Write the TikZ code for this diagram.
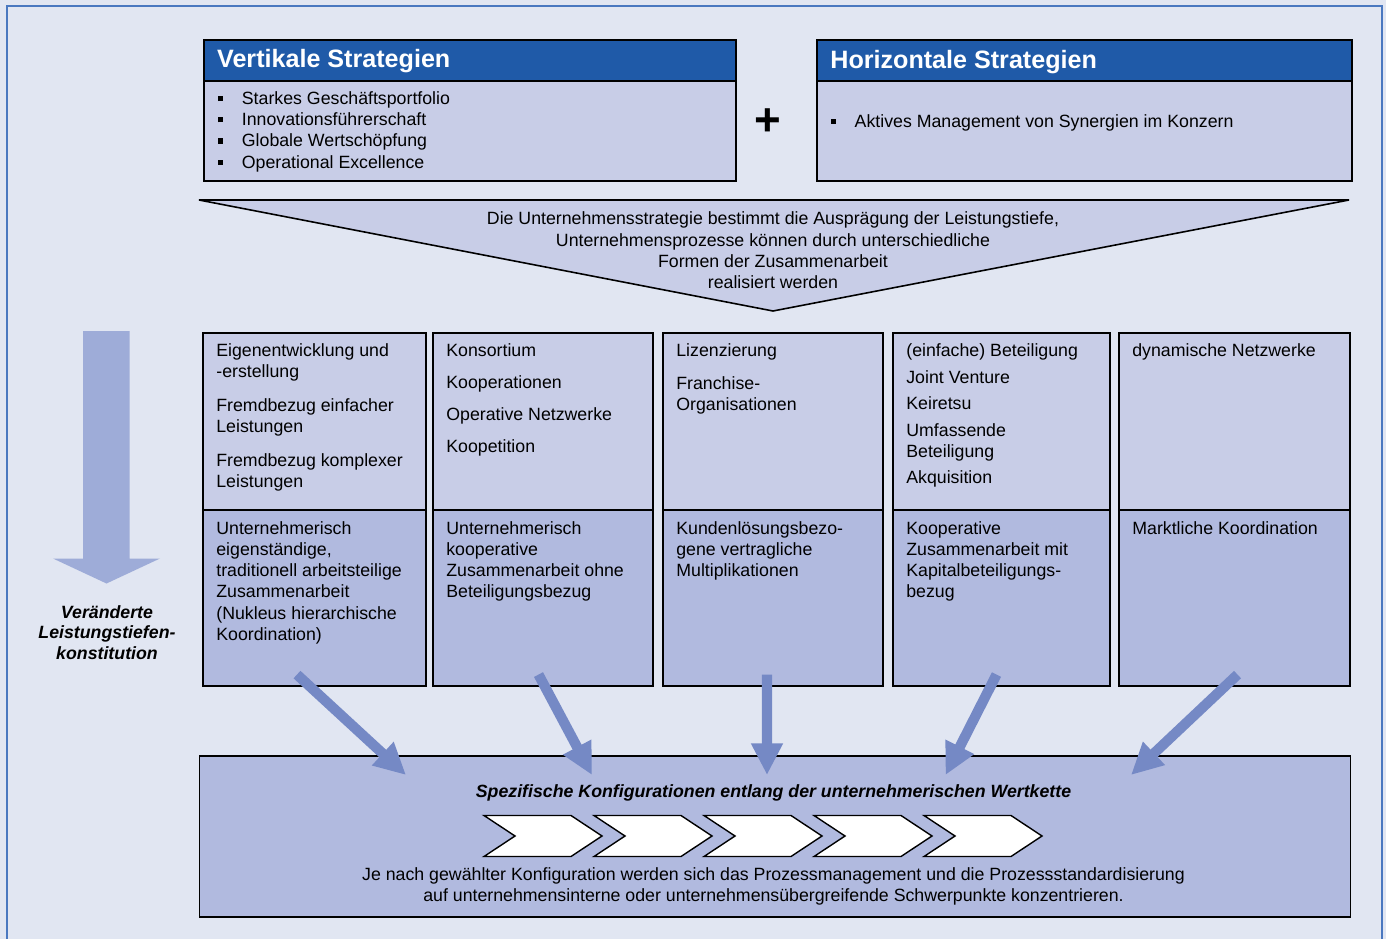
\documentclass[tikz,border=0pt]{standalone}
\usepackage{fontspec}
\setmainfont{Liberation Sans}
\usepackage{tikz}
\usetikzlibrary{arrows.meta}

\definecolor{bgblue}{HTML}{E1E6F2}
\definecolor{frameblue}{HTML}{4A78C0}
\definecolor{headblue}{HTML}{1F5AA8}
\definecolor{lightcell}{HTML}{C8CDE7}
\definecolor{darkcell}{HTML}{B1BADF}
\definecolor{flowblue}{HTML}{7589C5}
\definecolor{bigarrow}{HTML}{9EACD8}

\newcommand{\pw}[1]{#1*0.02cm}
\newcommand{\sqb}{\makebox[13.4pt][l]{\rule[1.9pt]{2.9pt}{2.9pt}}}

\begin{document}
\begin{tikzpicture}[x=0.02cm, y=-0.02cm,
      box/.style={draw=black, line width=0.9pt, inner sep=0pt, anchor=north west},
      txt/.style={inner sep=0pt, anchor=north west, align=left, font=\fontsize{10.1}{12.1}\selectfont},
      title/.style={inner sep=0pt, anchor=base west, text=white, font=\fontsize{14.3}{16}\selectfont\bfseries},
      flow/.style={flowblue, line width=5.8pt, -{Triangle[length=18pt, width=17pt]}},
      chev/.style={draw=black, fill=white, line width=0.8pt}]
      \useasboundingbox (0,0) rectangle (1386,939);
      \fill[bgblue] (0,0) rectangle (1386,939);
      \draw[frameblue, line width=1.2pt] (7,960) -- (7,6) -- (1382,6) -- (1382,960);

      \node[box, fill=headblue, minimum width=\pw{532}, minimum height=\pw{41}] (vhead) at (203,39) {};
      \node[box, fill=lightcell, minimum width=\pw{532}, minimum height=\pw{100}] (vbody) at (203,80) {};
      \node[title] (vtitle) at (216.8,67.7) {Vertikale Strategien};
      \node[txt] (vlist) at (218,91.2) {\sqb Starkes Geschäftsportfolio\\ \sqb Innovationsführerschaft\\
        \sqb Globale Wertschöpfung\\ \sqb Operational Excellence};

      \node[box, fill=headblue, minimum width=\pw{535}, minimum height=\pw{41}] (hhead) at (816,39) {};
      \node[box, fill=lightcell, minimum width=\pw{535}, minimum height=\pw{100}] (hbody) at (816,80) {};
      \node[title] (htitle) at (830,68.3) {Horizontale Strategien};
      \node[txt] (hlist) at (830.8,113.9) {\sqb Aktives Management von Synergien im Konzern};

      \node[inner sep=0pt, font=\fontsize{26}{26}\selectfont\bfseries] (plus) at (767.5,122) {+};

      \draw[line width=0.9pt, fill=lightcell] (199,200) -- (1349,200) -- (773,311) -- cycle;
      \node[txt, anchor=north, align=center] (funnel) at (773,211.6) {Die Unternehmensstrategie bestimmt die Ausprägung der Leistungstiefe,\\
        Unternehmensprozesse können durch unterschiedliche\\ Formen der Zusammenarbeit\\ realisiert werden};

      \foreach \x/\w [count=\i] in {202/223, 432/220, 662/220, 892/217, 1118/231} {
        \node[box, fill=lightcell, minimum width=\pw{\w}, minimum height=\pw{177}] (top\i) at (\x,332) {};
        \node[box, fill=darkcell, minimum width=\pw{\w}, minimum height=\pw{176}] (low\i) at (\x,509) {};
      }

      \node[txt] (form1) at ([shift={(14,11.3)}]top1.north west) {Eigenentwicklung und\\ -erstellung\\[7pt]
        Fremdbezug einfacher\\ Leistungen\\[7pt] Fremdbezug komplexer\\ Leistungen};
      \node[txt] (form2) at ([shift={(14,11.3)}]top2.north west) {Konsortium\\[6.2pt] Kooperationen\\[6.2pt]
        Operative Netzwerke\\[6.2pt] Koopetition};
      \node[txt] (form3) at ([shift={(14,11.3)}]top3.north west) {Lizenzierung\\[6.4pt] Franchise-\\ Organisationen};
      \node[txt] (form4) at ([shift={(14,11.3)}]top4.north west) {(einfache) Beteiligung\\[3pt] Joint Venture\\[3pt]
        Keiretsu\\[3pt] Umfassende\\ Beteiligung\\[3pt] Akquisition};
      \node[txt] (form5) at ([shift={(14,11.3)}]top5.north west) {dynamische Netzwerke};

      \node[txt] (koord1) at ([shift={(14,11.8)}]low1.north west) {Unternehmerisch\\ eigenständige,\\
        traditionell arbeitsteilige\\ Zusammenarbeit\\ (Nukleus hierarchische\\ Koordination)};
      \node[txt] (koord2) at ([shift={(14,11.8)}]low2.north west) {Unternehmerisch\\ kooperative\\
        Zusammenarbeit ohne\\ Beteiligungsbezug};
      \node[txt] (koord3) at ([shift={(14,11.8)}]low3.north west) {Kundenlösungsbezo-\\ gene vertragliche\\ Multiplikationen};
      \node[txt] (koord4) at ([shift={(14,11.8)}]low4.north west) {Kooperative\\ Zusammenarbeit mit\\
        Kapitalbeteiligungs-\\ bezug};
      \node[txt] (koord5) at ([shift={(14,11.8)}]low5.north west) {Marktliche Koordination};

      \fill[bigarrow] (83,331) -- (129.5,331) -- (129.5,558.5) -- (160,558.5) -- (106.5,583.5)
        -- (53,558.5) -- (83,558.5) -- cycle;
      \node[txt, anchor=north, align=center, font=\fontsize{10.1}{11.8}\selectfont\bfseries\itshape] (tiefe) at (107,605)
        {Veränderte\\ Leistungstiefen-\\ konstitution};

      \node[box, fill=darkcell, minimum width=\pw{1151}, minimum height=\pw{161}] (wk) at (198.5,755) {};
      \node[inner sep=0pt, anchor=base, font=\fontsize{10.1}{12}\selectfont\bfseries\itshape] (wktitle) at (773.5,797.3)
        {Spezifische Konfigurationen entlang der unternehmerischen Wertkette};
      \foreach \i in {0,...,4}
        \draw[chev] ({484+110*\i},815.5) -- ++(87,0) -- ++(31,20.5) -- ++(-31,20.5) -- ++(-87,0) -- ++(31,-20.5) -- cycle;
      \node[txt, anchor=north, align=center, font=\fontsize{10.1}{11.75}\selectfont] (wktext) at (773.5,867.3)
        {Je nach gewählter Konfiguration werden sich das Prozessmanagement und die Prozessstandardisierung\\
        auf unternehmensinterne oder unternehmensübergreifende Schwerpunkte konzentrieren.};

      \foreach \i/\sx/\ex in {1/95/207.5, 2/106.5/393.5, 3/105/568.5, 4/104.5/747, 5/119.5/932.5}
        \draw[flow] ([shift={(\sx,-12)}]low\i.south west) -- ([shift={(\ex,20)}]wk.north west);
    \end{tikzpicture}
\end{document}
